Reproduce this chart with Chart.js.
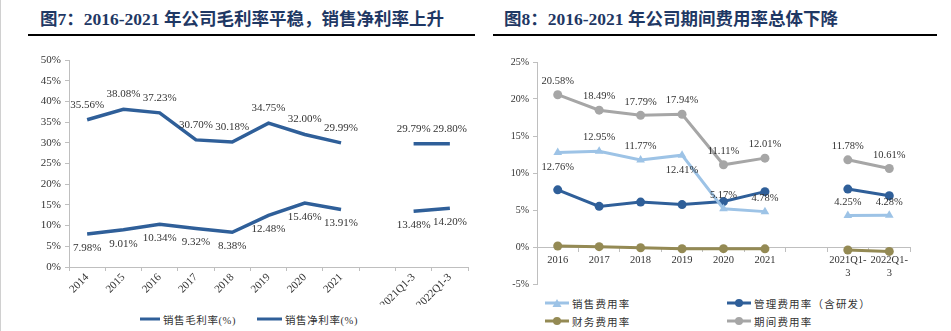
<!DOCTYPE html>
<html>
<head>
<meta charset="utf-8">
<script src="https://cdn.jsdelivr.net/npm/chart.js@4.4.1/dist/chart.umd.min.js"></script>
<style>
    body { margin: 0; width: 951px; height: 331px; background: #fff; position: relative; overflow: hidden; }
    .edge { position: absolute; left: 0; top: 0; width: 1px; height: 331px; background: #d0d0d0; }
    .title { position: absolute; top: 10px; line-height: 18px; font-size: 17.5px; font-weight: bold; color: #1f3864; white-space: nowrap;
             font-family: "Liberation Serif", "Noto Sans CJK SC", serif; }
    .rule { position: absolute; top: 34px; height: 2px; background: #000; }
    canvas { position: absolute; }
    .legend { position: absolute; display: grid; color: #333; font-family: "Liberation Serif", "Noto Sans CJK SC", serif; white-space: nowrap; }
    .legend .item { display: flex; align-items: center; height: 16px; }
    .legend svg { margin-right: 3px; flex: none; }
</style>
</head>
<body>
<div class="edge"></div>

<div class="title" style="left:40px">图7：2016-2021 年公司毛利率平稳，销售净利率上升</div>
<div class="rule" style="left:28px; width:447px"></div>
<canvas id="marginChart" width="475" height="265" style="left:0; top:40px; width:475px; height:265px"></canvas>
<div id="marginLegend" class="legend" style="left:140px; top:311px; grid-template-columns:117px 117px; font-size:10.5px; letter-spacing:0.6px"></div>

<div class="title" style="left:504px">图8：2016-2021 年公司期间费用率总体下降</div>
<div class="rule" style="left:493px; width:444px"></div>
<canvas id="expenseChart" width="476" height="254" style="left:475px; top:40px; width:476px; height:254px"></canvas>
<div id="expenseLegend" class="legend" style="left:545px; top:295px; grid-template-columns:182px 200px; row-gap:2px; font-size:10.5px; letter-spacing:1.2px"></div>

<script>
// ---- Fig 7: margins ----
const marginYears = ['2014', '2015', '2016', '2017', '2018', '2019', '2020', '2021', '', '2021Q1-3', '2022Q1-3'];
const grossMargin = [35.56, 38.08, 37.23, 30.70, 30.18, 34.75, 32.00, 29.99, null, 29.79, 29.80];
const netMargin = [7.98, 9.01, 10.34, 9.32, 8.38, 12.48, 15.46, 13.91, null, 13.48, 14.20];
const marginNames = ['销售毛利率(%)', '销售净利率(%)'];

// ---- Fig 8: expense ratios ----
const expenseYears = ['2016', '2017', '2018', '2019', '2020', '2021', '', ['2021Q1-', '3'], ['2022Q1-', '3']];
const sellingRate = [12.76, 12.95, 11.77, 12.41, 5.17, 4.78, null, 4.25, 4.28];
const adminRate = [7.72, 5.49, 6.07, 5.73, 6.14, 7.48, null, 7.83, 6.93];
const financeRate = [0.14, 0.05, -0.10, -0.23, -0.22, -0.25, null, -0.40, -0.60];
const periodRate = [20.58, 18.49, 17.79, 17.94, 11.11, 12.01, null, 11.78, 10.61];
const expenseNames = ['销售费用率', '管理费用率（含研发）', '财务费用率', '期间费用率'];

// where each value label sits relative to its point
const sellingLabelPos = ['below', 'above', 'above', 'below', 'above', 'above', null, 'above', 'above'];

const navy = '#2f5f99';
const axisGrey = '#bfbfbf';
const tickFont = { family: '"Liberation Serif", serif' };

// draws "xx.xx%" next to each point of datasets that carry labelPos
const valueLabels = {
    id: 'valueLabels',
    afterDatasetsDraw(chart, args, opts) {
        const ctx = chart.ctx;
        ctx.save();
        ctx.font = opts.size + 'px "Liberation Serif", serif';
        ctx.fillStyle = '#333';
        ctx.textAlign = 'center';
        ctx.textBaseline = 'middle';
        chart.data.datasets.forEach((ds, i) => {
            if (!ds.labelPos) return;
            chart.getDatasetMeta(i).data.forEach((pt, j) => {
                const v = ds.data[j];
                if (v == null) return;
                const dy = ds.labelPos[j] === 'below' ? opts.below : -opts.above;
                ctx.fillText(v.toFixed(2) + '%', pt.x, pt.y + dy);
            });
        });
        ctx.restore();
    }
};

new Chart(document.getElementById('marginChart'), {
    type: 'line',
    data: {
        labels: marginYears,
        datasets: [
            { label: marginNames[0], data: grossMargin, borderColor: navy, borderWidth: 3.5, pointRadius: 0,
              labelPos: grossMargin.map(() => 'above') },
            { label: marginNames[1], data: netMargin, borderColor: navy, borderWidth: 3.5, pointRadius: 0,
              labelPos: netMargin.map(() => 'below') }
        ]
    },
    options: {
        responsive: false,
        animation: false,
        devicePixelRatio: 1,
        layout: { padding: { top: 20, right: 7, left: 0, bottom: 0 } },
        plugins: {
            legend: { display: false },
            tooltip: { enabled: false },
            valueLabels: { size: 11, above: 15, below: 14 }
        },
        scales: {
            x: {
                offset: true,
                grid: { offset: true, drawOnChartArea: false, color: axisGrey, tickLength: 4 },
                border: { color: axisGrey },
                ticks: { color: '#333', font: { ...tickFont, size: 11 }, minRotation: 45, maxRotation: 45, padding: 0, autoSkip: false },
                afterFit: s => { s.height = 38; }
            },
            y: {
                min: 0, max: 50,
                grid: { drawOnChartArea: false, color: axisGrey, tickLength: 4 },
                border: { color: axisGrey },
                ticks: { stepSize: 5, color: '#333', font: { ...tickFont, size: 11 }, padding: 4, callback: v => v + '%' },
                afterFit: s => { s.width = 69; }
            }
        }
    },
    plugins: [valueLabels]
});

const expenseStyles = [
    { color: '#9dc3e6', marker: 'triangle', radius: 5 },
    { color: '#2f5f99', marker: 'circle', radius: 4.5 },
    { color: '#948a54', marker: 'circle', radius: 4.5 },
    { color: '#a6a6a6', marker: 'circle', radius: 4.5 }
];
const expenseSeries = [sellingRate, adminRate, financeRate, periodRate];
const expenseLabelPos = [sellingLabelPos, null, null, periodRate.map(() => 'above')];

new Chart(document.getElementById('expenseChart'), {
    type: 'line',
    data: {
        labels: expenseYears,
        datasets: expenseSeries.map((vals, i) => ({
            label: expenseNames[i],
            data: vals,
            borderColor: expenseStyles[i].color,
            backgroundColor: expenseStyles[i].color,
            borderWidth: 3,
            pointStyle: expenseStyles[i].marker,
            pointRadius: expenseStyles[i].radius,
            pointBorderWidth: 0,
            labelPos: expenseLabelPos[i] || undefined
        }))
    },
    options: {
        responsive: false,
        animation: false,
        devicePixelRatio: 1,
        layout: { padding: { top: 22, right: 41, left: 0, bottom: 2 } },
        plugins: {
            legend: { display: false },
            tooltip: { enabled: false },
            valueLabels: { size: 10.5, above: 13.5, below: 15 }
        },
        scales: {
            x: {
                position: { y: 0 },
                offset: true,
                grid: { offset: true, drawOnChartArea: false, color: axisGrey, tickLength: 4 },
                border: { color: axisGrey },
                ticks: { color: '#333', font: { ...tickFont, size: 10.5 }, maxRotation: 0, padding: 3, autoSkip: false }
            },
            y: {
                min: -5, max: 25,
                grid: { drawOnChartArea: false, color: axisGrey, tickLength: 4 },
                border: { color: axisGrey },
                ticks: { stepSize: 5, color: '#333', font: { ...tickFont, size: 10 }, padding: 4, callback: v => v + '%' },
                afterFit: s => { s.width = 62; }
            }
        }
    },
    plugins: [valueLabels]
});

// legends: a short line sample, with the series marker for the expense chart
function legendSample(color, marker, width) {
    const mid = width / 2;
    let mark = '';
    if (marker === 'circle') mark = `<circle cx="${mid}" cy="5" r="4" fill="${color}"/>`;
    if (marker === 'triangle') mark = `<polygon points="${mid - 4.5},9 ${mid + 4.5},9 ${mid},1" fill="${color}"/>`;
    return `<svg width="${width}" height="10"><line x1="0" y1="5" x2="${width}" y2="5" stroke="${color}" stroke-width="3"/>${mark}</svg>`;
}

document.getElementById('marginLegend').innerHTML = marginNames.map((name, i) =>
    `<div class="item">${legendSample(navy, null, i === 0 ? 20 : 25)}<span>${name}</span></div>`).join('');

document.getElementById('expenseLegend').innerHTML = expenseNames.map((name, i) =>
    `<div class="item">${legendSample(expenseStyles[i].color, expenseStyles[i].marker, 24)}<span>${name}</span></div>`).join('');
</script>
</body>
</html>
